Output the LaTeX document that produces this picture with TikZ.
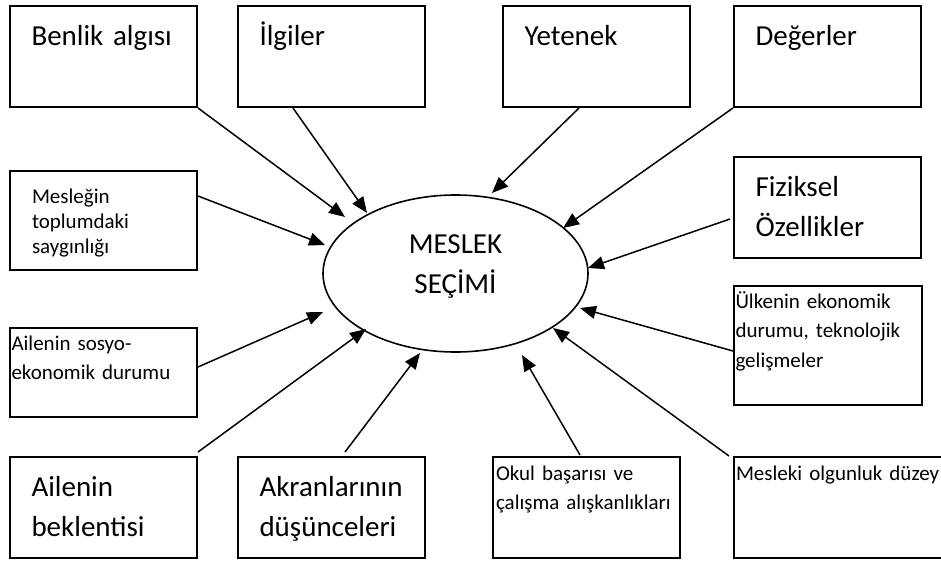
\documentclass[tikz,border=0pt]{standalone}
\usepackage{fontspec}
\setmainfont{Carlito}
\usetikzlibrary{arrows.meta, shapes.geometric}

\begin{document}
\begin{tikzpicture}[
  x=1pt, y=-1pt,
  box/.style={draw, line width=2pt, anchor=north west, inner ysep=0pt, align=left},
  bigbox/.style={box, font=\fontsize{29}{40.5}\selectfont, inner xsep=21.5pt, text width=144pt,
                 text height=39pt, text depth=62pt},
  smallbox/.style={box, font=\fontsize{21}{29.5}\selectfont},
  arr/.style={-{Triangle[length=16pt, width=13pt]}, line width=1.5pt},
]
\useasboundingbox (0,0) rectangle (941,560);
\clip (0,0) rectangle (941,560);

% ─── CENTRE ───────────────────────────────────────────────────────────────────
\node[ellipse, draw, line width=1.6pt, minimum width=265pt, minimum height=157pt, inner sep=0pt,
      text width=120pt, align=center, font=\fontsize{29}{40.5}\selectfont,
      text height=20pt, text depth=61pt] (secim) at (455.5,273.5) {MESLEK\\SEÇİMİ};

% ─── TOP ROW ──────────────────────────────────────────────────────────────────
\node[bigbox] (benlik)   at (9,5)   {Benlik algısı};
\node[bigbox] (ilgiler)  at (237,5) {İlgiler};
\node[bigbox] (yetenek)  at (502,5) {Yetenek};
\node[bigbox] (degerler) at (733,5) {Değerler};

% ─── LEFT SIDE ────────────────────────────────────────────────────────────────
\node[smallbox, font=\fontsize{21}{25}\selectfont, inner xsep=22pt, text width=143pt,
      text height=32pt, text depth=67pt] (saygin) at (9,170) {Mesleğin\\toplumdaki\\saygınlığı};
\node[smallbox, inner xsep=1.5pt, text width=184pt,
      text height=22pt, text depth=67pt] (sosyo) at (9,327) {Ailenin sosyo-\\ekonomik durumu};

% ─── RIGHT SIDE ───────────────────────────────────────────────────────────────
\node[bigbox] (fizik) at (733,156) {Fiziksel\\Özellikler};
\node[smallbox, inner xsep=1.5pt, text width=185pt,
      text height=22pt, text depth=97pt] (ulke) at (733,285) {Ülkenin ekonomik\\durumu, teknolojik\\gelişmeler};

% ─── BOTTOM ROW ───────────────────────────────────────────────────────────────
\node[bigbox] (beklenti) at (9,456)   {Ailenin\\beklentisi};
\node[bigbox] (akran)    at (237,456) {Akranlarının\\düşünceleri};
\node[smallbox, inner xsep=3pt, text width=181pt,
      text height=23pt, text depth=78pt] (okul) at (492,456) {Okul başarısı ve\\çalışma alışkanlıkları};
\node[smallbox, inner xsep=2pt, text width=226pt,
      text height=23pt, text depth=78pt] (mesleki) at (733,456) {Mesleki olgunluk düzey};

% ─── ARROW TIPS ───────────────────────────────────────────────────────────────
\coordinate (t-benlik)   at (345,217);
\coordinate (t-ilgiler)  at (367,213);
\coordinate (t-yetenek)  at (492,193);
\coordinate (t-degerler) at (563,228);
\coordinate (t-saygin)   at (325,245);
\coordinate (t-fizik)    at (588,268);
\coordinate (t-sosyo)    at (323,312);
\coordinate (t-ulke)     at (580,308);
\coordinate (t-beklenti) at (366,329);
\coordinate (t-akran)    at (420,353);
\coordinate (t-okul)     at (522,355);
\coordinate (t-mesleki)  at (553,328);

% ─── ARROWS ───────────────────────────────────────────────────────────────────
\draw[arr] (benlik.south east)                    -- (t-benlik);
\draw[arr] ([xshift=56pt]ilgiler.south west)      -- (t-ilgiler);
\draw[arr] ([xshift=77pt]yetenek.south west)      -- (t-yetenek);
\draw[arr] (degerler.south west)                  -- (t-degerler);
\draw[arr] ([yshift=24.5pt]saygin.east)           -- (t-saygin);
\draw[arr] ([xshift=-3pt, yshift=-11.5pt]fizik.west) -- (t-fizik);
\draw[arr] ([yshift=5.5pt]sosyo.east)             -- (t-sosyo);
\draw[arr] ([yshift=-5.5pt]ulke.west)             -- (t-ulke);
\draw[arr] ([yshift=4pt]beklenti.north east)      -- (t-beklenti);
\draw[arr] ([xshift=108pt, yshift=4pt]akran.north west) -- (t-akran);
\draw[arr] ([xshift=88pt, yshift=1pt]okul.north west)   -- (t-okul);
\draw[arr] ([xshift=-4pt]mesleki.north west)      -- (t-mesleki);

\end{tikzpicture}
\end{document}
